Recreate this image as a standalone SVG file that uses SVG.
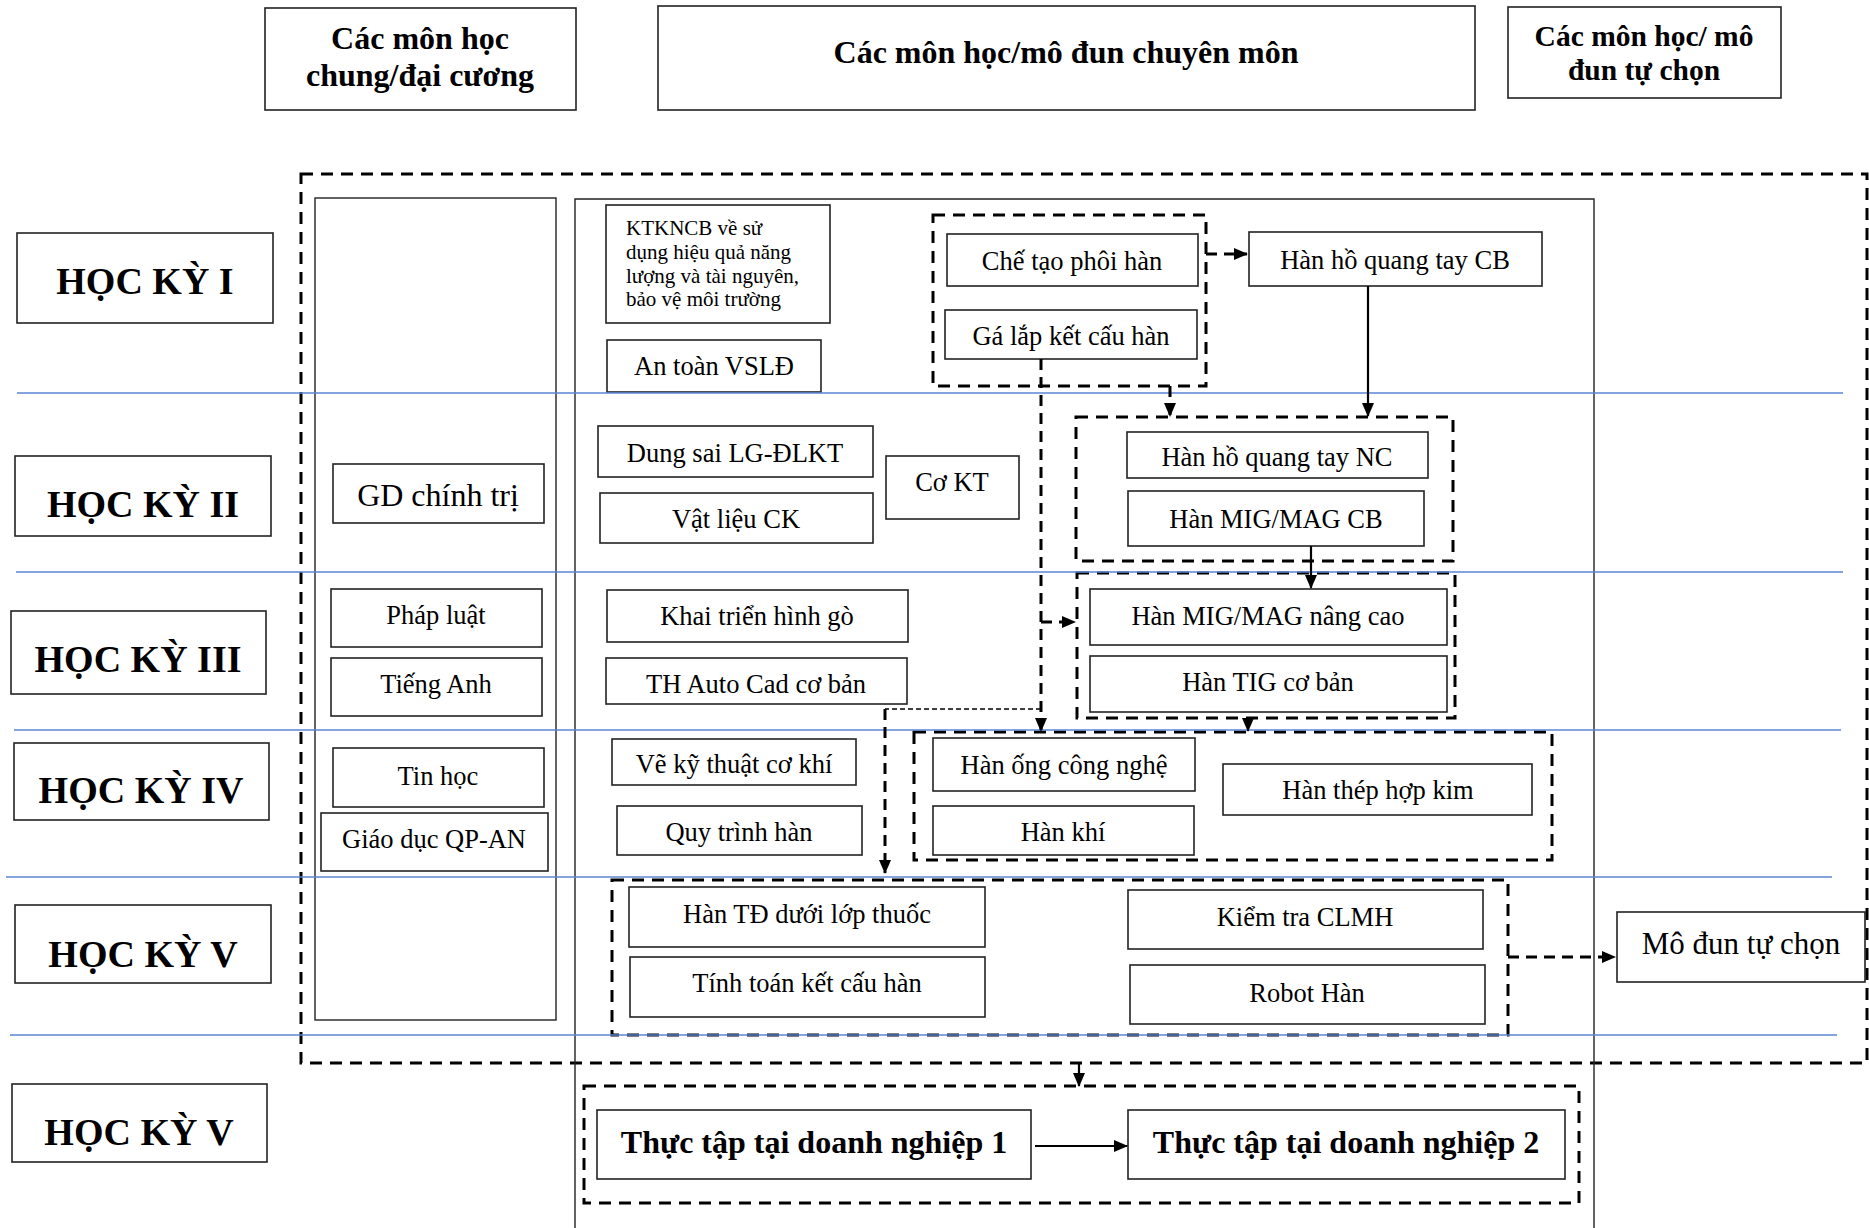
<svg xmlns="http://www.w3.org/2000/svg" width="1869" height="1228" viewBox="0 0 1869 1228">
<defs>
<marker id="ah" markerUnits="userSpaceOnUse" markerWidth="14" markerHeight="12" refX="13" refY="6" orient="auto">
<path d="M0,0 L14,6 L0,12 Z" fill="#000"/>
</marker>
<style>
.bx{fill:#fff;stroke:#222;stroke-width:1.6}
.col{fill:none;stroke:#222;stroke-width:1.4}
.grp{fill:none;stroke:#000;stroke-width:3;stroke-dasharray:12 8}
.sep{stroke:#5b86d6;stroke-width:1.6}
.t{font-family:"Liberation Serif","Times New Roman",serif;font-size:26.5px;fill:#000;text-anchor:middle;dominant-baseline:central}
.b{font-weight:bold}
.hk{font-size:38px;font-weight:bold}
.hd{font-size:32px;font-weight:bold}
.sm{font-family:"Liberation Serif","Times New Roman",serif;font-size:21px;fill:#000}
.cs{fill:none;stroke:#000;stroke-width:2.2}
.cd{fill:none;stroke:#000;stroke-width:3;stroke-dasharray:11 7}
.cdt{fill:none;stroke:#000;stroke-width:1.5;stroke-dasharray:5 3}
</style>
</defs>
<rect width="1869" height="1228" fill="#fff"/>

<!-- columns & containers -->
<g id="containers">
<rect class="grp" x="301" y="174" width="1566" height="889"/>
<rect class="col" x="315" y="198" width="241" height="822"/>
<path class="col" d="M575,1228 V199 H1594 V1228"/>
<rect class="grp" x="933" y="215" width="273" height="171"/>
<rect class="grp" x="1076" y="417" width="377" height="144"/>
<rect class="grp" x="1077" y="573" width="378" height="145"/>
<rect class="grp" x="914" y="732" width="638" height="128"/>
<rect class="grp" x="612" y="880" width="896" height="155"/>
<rect class="grp" x="584" y="1086" width="995" height="117"/>
</g>

<!-- headers -->
<g id="hdr-chung"><rect class="bx" x="265" y="8" width="311" height="102"/>
<text class="t hd" x="420" y="38">Các môn học</text><text class="t hd" x="420" y="75">chung/đại cương</text></g>
<g id="hdr-chuyen"><rect class="bx" x="658" y="6" width="817" height="104"/>
<text class="t hd" x="1066" y="52">Các môn học/mô đun chuyên môn</text></g>
<g id="hdr-tuchon"><rect class="bx" x="1508" y="7" width="273" height="91"/>
<text class="t hd" x="1644" y="36" style="font-size:29.5px">Các môn học/ mô</text><text class="t hd" x="1644" y="70" style="font-size:29.5px">đun tự chọn</text></g>

<!-- semesters -->
<g id="hk1"><rect class="bx" x="17" y="233" width="256" height="90"/><text class="t hk" x="145" y="281">HỌC KỲ I</text></g>
<g id="hk2"><rect class="bx" x="15" y="456" width="256" height="80"/><text class="t hk" x="143" y="504">HỌC KỲ II</text></g>
<g id="hk3"><rect class="bx" x="11" y="611" width="255" height="83"/><text class="t hk" x="138" y="659">HỌC KỲ III</text></g>
<g id="hk4"><rect class="bx" x="14" y="743" width="255" height="77"/><text class="t hk" x="141" y="790">HỌC KỲ IV</text></g>
<g id="hk5"><rect class="bx" x="15" y="905" width="256" height="78"/><text class="t hk" x="143" y="954">HỌC KỲ V</text></g>
<g id="hk5b"><rect class="bx" x="12" y="1084" width="255" height="78"/><text class="t hk" x="139" y="1132">HỌC KỲ V</text></g>

<!-- general subjects -->
<g id="gdct"><rect class="bx" x="333" y="464" width="211" height="59"/><text class="t" x="438" y="495" style="font-size:32px">GD chính trị</text></g>
<g id="phapluat"><rect class="bx" x="331" y="589" width="211" height="58"/><text class="t" x="436" y="615">Pháp luật</text></g>
<g id="tienganh"><rect class="bx" x="331" y="658" width="211" height="58"/><text class="t" x="436" y="684">Tiếng Anh</text></g>
<g id="tinhoc"><rect class="bx" x="333" y="748" width="211" height="59"/><text class="t" x="438" y="776">Tin học</text></g>
<g id="gdqp"><rect class="bx" x="321" y="813" width="227" height="58"/><text class="t" x="434" y="839">Giáo dục QP-AN</text></g>

<!-- specialised subjects -->
<g id="ktkncb"><rect class="bx" x="606" y="205" width="224" height="118"/>
<text class="sm" x="626" y="235">KTKNCB về sử</text>
<text class="sm" x="626" y="259">dụng hiệu quả năng</text>
<text class="sm" x="626" y="283">lượng và tài nguyên,</text>
<text class="sm" x="626" y="306">bảo vệ môi trường</text></g>
<g id="atvsld"><rect class="bx" x="607" y="340" width="214" height="52"/><text class="t" x="714" y="366">An toàn VSLĐ</text></g>
<g id="chetao"><rect class="bx" x="947" y="234" width="251" height="52"/><text class="t" x="1072" y="261">Chế tạo phôi hàn</text></g>
<g id="galap"><rect class="bx" x="945" y="310" width="252" height="49"/><text class="t" x="1071" y="336">Gá lắp kết cấu hàn</text></g>
<g id="hqtcb"><rect class="bx" x="1249" y="232" width="293" height="54"/><text class="t" x="1395" y="260">Hàn hồ quang tay CB</text></g>
<g id="dungsai"><rect class="bx" x="598" y="426" width="275" height="51"/><text class="t" x="735" y="453">Dung sai LG-ĐLKT</text></g>
<g id="vatlieu"><rect class="bx" x="600" y="493" width="273" height="50"/><text class="t" x="736" y="519">Vật liệu CK</text></g>
<g id="cokt"><rect class="bx" x="886" y="456" width="133" height="63"/><text class="t" x="952" y="482">Cơ KT</text></g>
<g id="hqtnc"><rect class="bx" x="1127" y="432" width="301" height="46"/><text class="t" x="1277" y="457">Hàn hồ quang tay NC</text></g>
<g id="migcb"><rect class="bx" x="1128" y="491" width="296" height="55"/><text class="t" x="1276" y="519">Hàn MIG/MAG CB</text></g>
<g id="khaitrien"><rect class="bx" x="607" y="590" width="301" height="52"/><text class="t" x="757" y="616">Khai triển hình gò</text></g>
<g id="autocad"><rect class="bx" x="606" y="658" width="301" height="46"/><text class="t" x="756" y="684">TH Auto Cad cơ bản</text></g>
<g id="mignc"><rect class="bx" x="1090" y="589" width="357" height="56"/><text class="t" x="1268" y="616">Hàn MIG/MAG nâng cao</text></g>
<g id="tig"><rect class="bx" x="1090" y="656" width="357" height="56"/><text class="t" x="1268" y="682">Hàn TIG cơ bản</text></g>
<g id="vekythuat"><rect class="bx" x="612" y="739" width="244" height="46"/><text class="t" x="734" y="764">Vẽ kỹ thuật cơ khí</text></g>
<g id="quytrinh"><rect class="bx" x="617" y="806" width="245" height="49"/><text class="t" x="739" y="832">Quy trình hàn</text></g>
<g id="hanong"><rect class="bx" x="933" y="738" width="262" height="53"/><text class="t" x="1064" y="765">Hàn ống công nghệ</text></g>
<g id="hankhi"><rect class="bx" x="933" y="806" width="261" height="49"/><text class="t" x="1063" y="832">Hàn khí</text></g>
<g id="hopkim"><rect class="bx" x="1223" y="764" width="309" height="51"/><text class="t" x="1378" y="790">Hàn thép hợp kim</text></g>
<g id="hantd"><rect class="bx" x="629" y="887" width="356" height="60"/><text class="t" x="807" y="914">Hàn TĐ dưới lớp thuốc</text></g>
<g id="tinhtoan"><rect class="bx" x="630" y="957" width="355" height="60"/><text class="t" x="807" y="983">Tính toán kết cấu hàn</text></g>
<g id="kiemtra"><rect class="bx" x="1128" y="890" width="355" height="59"/><text class="t" x="1305" y="917">Kiểm tra CLMH</text></g>
<g id="robot"><rect class="bx" x="1130" y="965" width="355" height="59"/><text class="t" x="1307" y="993">Robot Hàn</text></g>
<g id="modun"><rect class="bx" x="1617" y="912" width="248" height="70"/><text class="t" x="1741" y="943" style="font-size:31px">Mô đun tự chọn</text></g>
<g id="thuctap1"><rect class="bx" x="597" y="1110" width="434" height="69"/><text class="t b" x="814" y="1142" style="font-size:32px">Thực tập tại doanh nghiệp 1</text></g>
<g id="thuctap2"><rect class="bx" x="1128" y="1110" width="437" height="69"/><text class="t b" x="1346" y="1142" style="font-size:32px">Thực tập tại doanh nghiệp 2</text></g>

<!-- semester separators -->
<g id="separators">
<line class="sep" x1="17" y1="393" x2="1843" y2="393"/>
<line class="sep" x1="16" y1="572" x2="1843" y2="572"/>
<line class="sep" x1="14" y1="730" x2="1841" y2="730"/>
<line class="sep" x1="6" y1="877" x2="1832" y2="877"/>
<line class="sep" x1="10" y1="1035" x2="1837" y2="1035"/>
</g>

<!-- connectors -->
<g id="connectors">
<path class="cd" d="M1206,254 H1247" marker-end="url(#ah)"/>
<path class="cs" d="M1368,286 V416" marker-end="url(#ah)"/>
<path class="cd" d="M1170,386 V416" marker-end="url(#ah)"/>
<path class="cd" d="M1041,359 V731" marker-end="url(#ah)"/>
<path class="cd" d="M1041,622 H1075" marker-end="url(#ah)"/>
<path class="cs" d="M1311,546 V588" marker-end="url(#ah)"/>
<path class="cs" d="M1248,718 V731" marker-end="url(#ah)"/>
<path class="cdt" d="M1041,709 H885"/>
<path class="cd" d="M885,709 V873" marker-end="url(#ah)"/>
<path class="cd" d="M1508,957 H1615" marker-end="url(#ah)"/>
<path class="cs" d="M1079,1063 V1086" marker-end="url(#ah)"/>
<path class="cs" d="M1035,1146 H1127" marker-end="url(#ah)"/>
</g>
</svg>
